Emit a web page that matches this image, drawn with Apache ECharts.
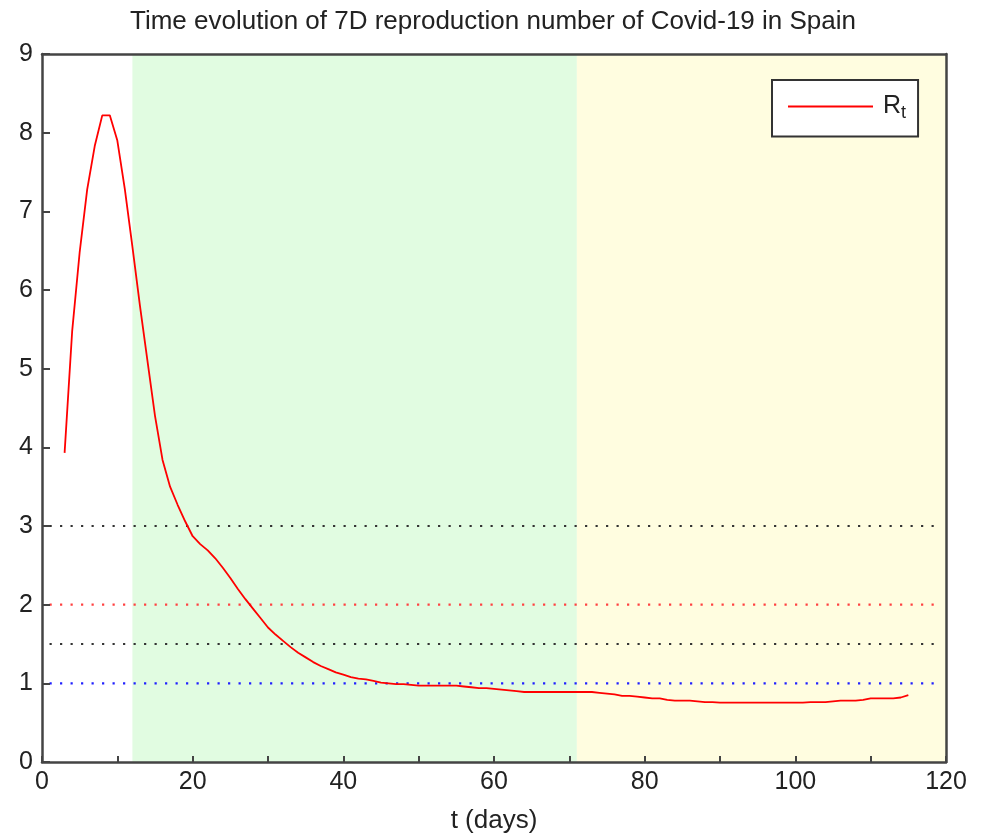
<!DOCTYPE html>
<html>
<head>
<meta charset="utf-8">
<script src="https://cdn.jsdelivr.net/npm/echarts@6/dist/echarts.min.js"></script>
<style>
html,body{margin:0;padding:0;background:#fff;}
#chart{width:986px;height:839px;}
</style>
</head>
<body>
<div id="chart"></div>
<script>
// ---- data ----
var titleText = 'Time evolution of 7D reproduction number of Covid-19 in Spain';
var xName = 't (days)';
var startDay = 3;
var rt = [
  3.93, 5.47, 6.48, 7.28, 7.83, 8.22, 8.22, 7.90, 7.28, 6.55,   // 3-12
  5.80, 5.10, 4.40, 3.84, 3.50, 3.27, 3.06, 2.87, 2.77, 2.69,   // 13-22
  2.59, 2.47, 2.34, 2.20, 2.07, 1.95, 1.83, 1.71, 1.62, 1.54,   // 23-32
  1.46, 1.39, 1.33, 1.27, 1.22, 1.18, 1.14, 1.11, 1.08, 1.06,   // 33-42
  1.05, 1.03, 1.01, 1.00, 0.99, 0.99, 0.98, 0.97, 0.97, 0.97,   // 43-52
  0.97, 0.97, 0.97, 0.96, 0.95, 0.94, 0.94, 0.93, 0.92, 0.91,   // 53-62
  0.90, 0.89, 0.89, 0.89, 0.89, 0.89, 0.89, 0.89, 0.89, 0.89,   // 63-72
  0.89, 0.88, 0.87, 0.86, 0.84, 0.84, 0.83, 0.82, 0.81, 0.81,   // 73-82
  0.79, 0.78, 0.78, 0.78, 0.77, 0.76, 0.76, 0.755, 0.755, 0.755, // 83-92
  0.755, 0.755, 0.755, 0.755, 0.755, 0.755, 0.755, 0.755, 0.755, 0.76, // 93-102
  0.76, 0.76, 0.77, 0.78, 0.78, 0.78, 0.79, 0.81, 0.81, 0.81,   // 103-112
  0.81, 0.82, 0.85                                              // 113-115
];
var seriesName = 'Rt';
var thresholds = [3, 2, 1.5, 1];
var thresholdColors = ['#333333', '#ff4040', '#333333', '#2020ff'];
var thresholdSpan = [1, 119];
var phaseStart = [12, 71];
var phaseEnd = [71, 120];
var phaseColors = ['#e1fce1', '#fffde0'];
var xTicks = [0, 120, 10];
var yTicks = [0, 9, 1];

// ---- chart ----
var chart = echarts.init(document.getElementById('chart'), null, {renderer: 'canvas'});
var lineData = rt.map(function (v, i) { return [startDay + i, v]; });
var font = 'Liberation Sans, Arial, sans-serif';
var axisColor = '#444';

var series = [{
  name: seriesName,
  type: 'line',
  data: lineData,
  symbol: 'none',
  smooth: false,
  z: 5,
  lineStyle: {color: '#ff0000', width: 1.8},
  itemStyle: {color: '#ff0000'},
  markArea: {
    silent: true,
    data: phaseStart.map(function (s, i) {
      return [{xAxis: s, itemStyle: {color: phaseColors[i]}}, {xAxis: phaseEnd[i]}];
    })
  }
}];
thresholds.forEach(function (t, i) {
  series.push({
    name: 'thr' + i,
    type: 'line',
    data: [[thresholdSpan[0], t], [thresholdSpan[1], t]],
    symbol: 'none',
    silent: true,
    z: 3,
    lineStyle: {color: thresholdColors[i], width: 2.2, type: [2.2, 8.3]}
  });
});

chart.setOption({
  backgroundColor: '#fff',
  animation: false,
  title: {
    text: titleText,
    left: 'center',
    top: 4,
    textStyle: {fontFamily: font, fontSize: 26, fontWeight: 'normal', color: '#222'}
  },
  legend: {
    data: [seriesName],
    left: 772,
    top: 80,
    orient: 'vertical',
    backgroundColor: '#fff',
    borderColor: '#333',
    borderWidth: 2,
    borderRadius: 0,
    padding: [14, 12, 14, 16],
    itemWidth: 85,
    itemHeight: 2,
    icon: 'rect',
    itemStyle: {color: '#ff0000'},
    formatter: function () { return '{a|R}{b|t}'; },
    textStyle: {
      fontFamily: font,
      color: '#222',
      rich: {
        a: {fontSize: 25, fontFamily: font, color: '#222', padding: [0, 0, 0, 5]},
        b: {fontSize: 18, fontFamily: font, color: '#222', padding: [14, 0, 0, 0]}
      }
    }
  },
  grid: {left: 42, right: 40, top: 54, bottom: 76, containLabel: false},
  xAxis: [{
    type: 'value',
    min: xTicks[0], max: xTicks[1], interval: xTicks[2],
    name: xName,
    nameLocation: 'middle',
    nameGap: 46,
    nameTextStyle: {fontFamily: font, fontSize: 26, color: '#222'},
    z: 10,
    axisLine: {show: true, onZero: false, lineStyle: {color: axisColor, width: 2.5}},
    axisTick: {show: true, inside: true, length: 6, lineStyle: {color: axisColor, width: 2}},
    axisLabel: {
      fontFamily: font, fontSize: 25, color: '#222', margin: 8,
      formatter: function (v) { return v % 20 === 0 ? String(v) : ''; }
    },
    splitLine: {show: false}
  }, {
    type: 'value', position: 'top',
    min: xTicks[0], max: xTicks[1], interval: xTicks[2],
    z: 10,
    axisLine: {show: true, onZero: false, lineStyle: {color: axisColor, width: 2.5}},
    axisTick: {show: false}, axisLabel: {show: false}, splitLine: {show: false}
  }],
  yAxis: [{
    type: 'value',
    min: yTicks[0], max: yTicks[1], interval: yTicks[2],
    z: 10,
    axisLine: {show: true, onZero: false, lineStyle: {color: axisColor, width: 2.5}},
    axisTick: {show: true, inside: true, length: 8, lineStyle: {color: axisColor, width: 2}},
    axisLabel: {fontFamily: font, fontSize: 25, color: '#222', margin: 9},
    splitLine: {show: false}
  }, {
    type: 'value', position: 'right',
    min: yTicks[0], max: yTicks[1], interval: yTicks[2],
    z: 10,
    axisLine: {show: true, onZero: false, lineStyle: {color: axisColor, width: 2.5}},
    axisTick: {show: false}, axisLabel: {show: false}, splitLine: {show: false}
  }],
  series: series
});
</script>
</body>
</html>
